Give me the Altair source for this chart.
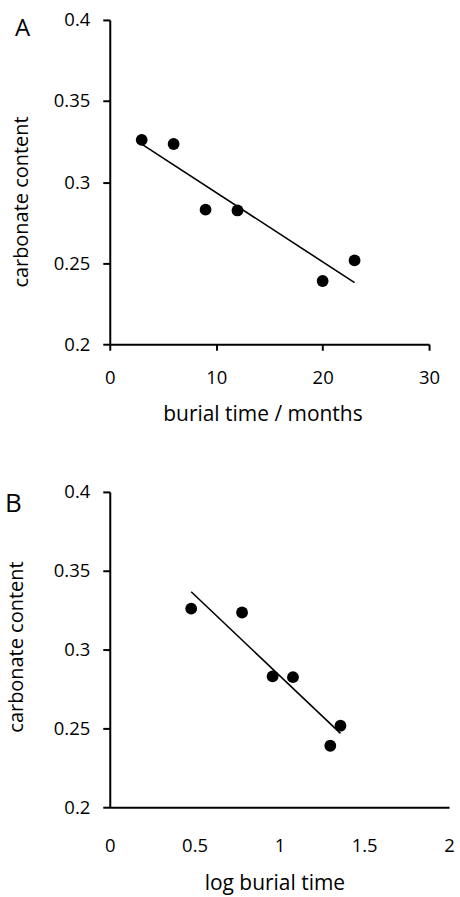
import altair as alt
import pandas as pd

# Data
months = [3, 6, 9, 12, 20, 23]
log_months = [0.48, 0.78, 0.96, 1.08, 1.30, 1.36]
carbonate = [0.326, 0.3235, 0.283, 0.2825, 0.239, 0.2517]

y_ticks = [0.2, 0.25, 0.3, 0.35, 0.4]
xa_ticks = [0, 10, 20, 30]
xb_ticks = [0, 0.5, 1, 1.5, 2]

dfa = pd.DataFrame({"x": months, "y": carbonate})
dfb = pd.DataFrame({"x": log_months, "y": carbonate})

FONT = "Open Sans"


def panel(df, xdom, xaxis, yaxis, w, h, letter, lx, ly, lsize):
    base = alt.Chart(df)
    xs = alt.X("x:Q", scale=alt.Scale(domain=xdom, nice=False, zero=False), axis=xaxis)
    ys = alt.Y("y:Q", scale=alt.Scale(domain=[0.2, 0.4], nice=False, zero=False), axis=yaxis)
    line = base.transform_regression("x", "y").mark_line(color="black", strokeWidth=1.6).encode(x=xs, y=ys)
    pts = base.mark_circle(color="black", opacity=1, size=140).encode(x=xs, y=ys)
    lab = alt.Chart(pd.DataFrame({"t": [letter]})).mark_text(
        font=FONT, fontSize=lsize, align="left", baseline="alphabetic", color="black"
    ).encode(text="t:N", x=alt.value(lx), y=alt.value(ly))
    return alt.layer(line, pts, lab).properties(width=w, height=h)


common_y = dict(
    values=y_ticks, format="~r", tickSize=7, labelPadding=13,
    title="carbonate content", titleBaseline="alphabetic", titleAngle=270,
    titleAlign="center", titleFontSize=20,
)

chart_a = panel(
    dfa, [0, 30],
    alt.Axis(values=xa_ticks, format="~r", tickSize=6, labelPadding=18,
             title="burial time / months", titleX=153, titleY=76,
             titleBaseline="alphabetic", titleAlign="center", titleFontSize=21),
    alt.Axis(titleX=-82, titleY=182, **common_y),
    320, 325, "A", -95, 16, 24,
)

chart_b = panel(
    dfb, [0, 2],
    alt.Axis(values=xb_ticks, format="~r", ticks=False, tickSize=0, labelPadding=29,
             title="log burial time", titleX=165, titleY=82,
             titleBaseline="alphabetic", titleAlign="center", titleFontSize=21),
    alt.Axis(titleX=-87, titleY=155, **common_y),
    340, 316, "B", -105, 20, 26,
)

chart = alt.vconcat(chart_a, chart_b, spacing=148, bounds="flush").properties(
    padding={"left": 5, "top": 10, "right": 5, "bottom": 6}
).configure_view(stroke=None).configure_axis(
    labelFont=FONT, titleFont=FONT, labelFontSize=18.5,
    labelColor="black", titleColor="black", domainColor="black", tickColor="black",
    domainWidth=2, tickWidth=2, grid=False, titleFontWeight="normal",
    labelFlush=False, labelOverlap=False,
)

chart.save("out.html", embed_options={"renderer": "svg", "actions": False})
